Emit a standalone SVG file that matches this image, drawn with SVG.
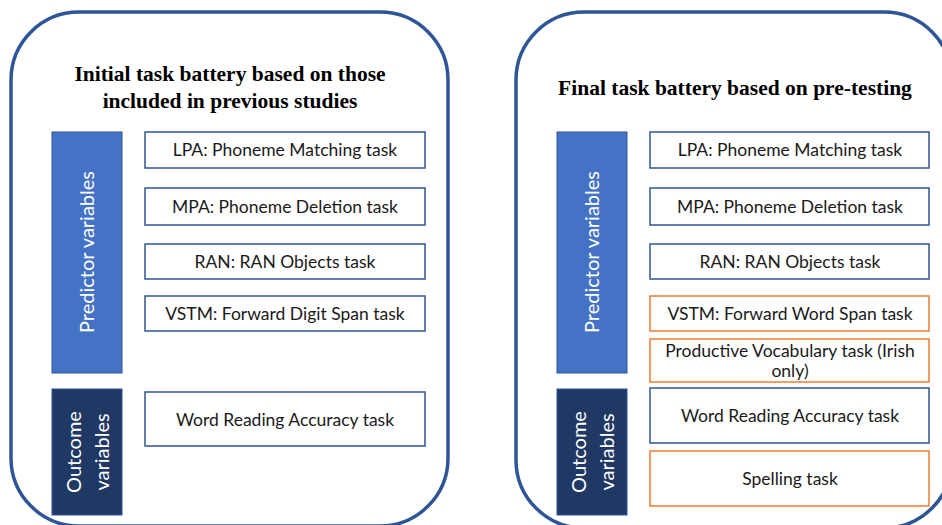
<svg xmlns="http://www.w3.org/2000/svg" width="942" height="525" viewBox="0 0 942 525">
<style>
.outer{fill:#fff;stroke:#2F5597;stroke-width:3.5}
.title{font-family:"Liberation Serif",serif;font-weight:bold;font-size:21.5px;fill:#000;text-anchor:middle}
.pred{fill:#4472C4;stroke:#2F5597;stroke-width:1}
.outc{fill:#203864;stroke:#2F5597;stroke-width:1}
.vlab{font-family:Lato,"Liberation Sans",sans-serif;font-size:20px;fill:#fff;text-anchor:middle}
.box{fill:#fff;stroke:#2F5597;stroke-width:1.5}
.obox{fill:#fff;stroke:#ED7D31;stroke-width:1.5}
.t{font-family:Lato,"Liberation Sans",sans-serif;font-size:17.5px;fill:#1a1a1a;text-anchor:middle}
</style>
<rect width="942" height="525" fill="#fff"/>
<g id="panel-initial">
<rect class="outer" x="11" y="12" width="437" height="514" rx="68" ry="68"/>
<text class="title" x="230" y="81">Initial task battery based on those</text>
<text class="title" x="230" y="108">included in previous studies</text>
</g>
<g id="panel-final">
<rect class="outer" x="516" y="12" width="436" height="516" rx="68" ry="68"/>
<text class="title" x="735" y="95">Final task battery based on pre-testing</text>
</g>
<g id="left-predictor">
<rect class="pred" x="52" y="132" width="70" height="241"/>
<text class="vlab" transform="translate(94,252) rotate(-90)">Predictor variables</text>
</g>
<g id="left-outcome">
<rect class="outc" x="52" y="389" width="70" height="126"/>
<text class="vlab" transform="translate(81,452) rotate(-90)">Outcome</text>
<text class="vlab" transform="translate(109,452) rotate(-90)">variables</text>
</g>
<g id="left-lpa"><rect class="box" x="145" y="132" width="280" height="36"/><text class="t" x="285" y="156">LPA: Phoneme Matching task</text></g>
<g id="left-mpa"><rect class="box" x="145" y="188" width="280" height="37"/><text class="t" x="285" y="213">MPA: Phoneme Deletion task</text></g>
<g id="left-ran"><rect class="box" x="145" y="244" width="280" height="35"/><text class="t" x="285" y="268">RAN: RAN Objects task</text></g>
<g id="left-vstm"><rect class="box" x="145" y="296" width="280" height="35"/><text class="t" x="285" y="320">VSTM: Forward Digit Span task</text></g>
<g id="left-wra"><rect class="box" x="145" y="392" width="280" height="54"/><text class="t" x="285" y="426">Word Reading Accuracy task</text></g>
<g id="right-predictor">
<rect class="pred" x="557" y="132" width="70" height="241"/>
<text class="vlab" transform="translate(599,252) rotate(-90)">Predictor variables</text>
</g>
<g id="right-outcome">
<rect class="outc" x="557" y="389" width="70" height="126"/>
<text class="vlab" transform="translate(586,452) rotate(-90)">Outcome</text>
<text class="vlab" transform="translate(614,452) rotate(-90)">variables</text>
</g>
<g id="right-lpa"><rect class="box" x="650" y="132" width="279" height="36"/><text class="t" x="790" y="156">LPA: Phoneme Matching task</text></g>
<g id="right-mpa"><rect class="box" x="650" y="188" width="279" height="37"/><text class="t" x="790" y="213">MPA: Phoneme Deletion task</text></g>
<g id="right-ran"><rect class="box" x="650" y="244" width="279" height="35"/><text class="t" x="790" y="268">RAN: RAN Objects task</text></g>
<g id="right-vstm"><rect class="obox" x="650" y="296" width="279" height="35"/><text class="t" x="790" y="320">VSTM: Forward Word Span task</text></g>
<g id="right-vocab"><rect class="obox" x="650" y="339" width="279" height="43"/><text class="t" x="790" y="357">Productive Vocabulary task (Irish</text><text class="t" x="790" y="377">only)</text></g>
<g id="right-wra"><rect class="box" x="650" y="388" width="279" height="55"/><text class="t" x="790" y="422">Word Reading Accuracy task</text></g>
<g id="right-spelling"><rect class="obox" x="650" y="451" width="279" height="55"/><text class="t" x="790" y="485">Spelling task</text></g>
<g id="connectors"/>
</svg>
